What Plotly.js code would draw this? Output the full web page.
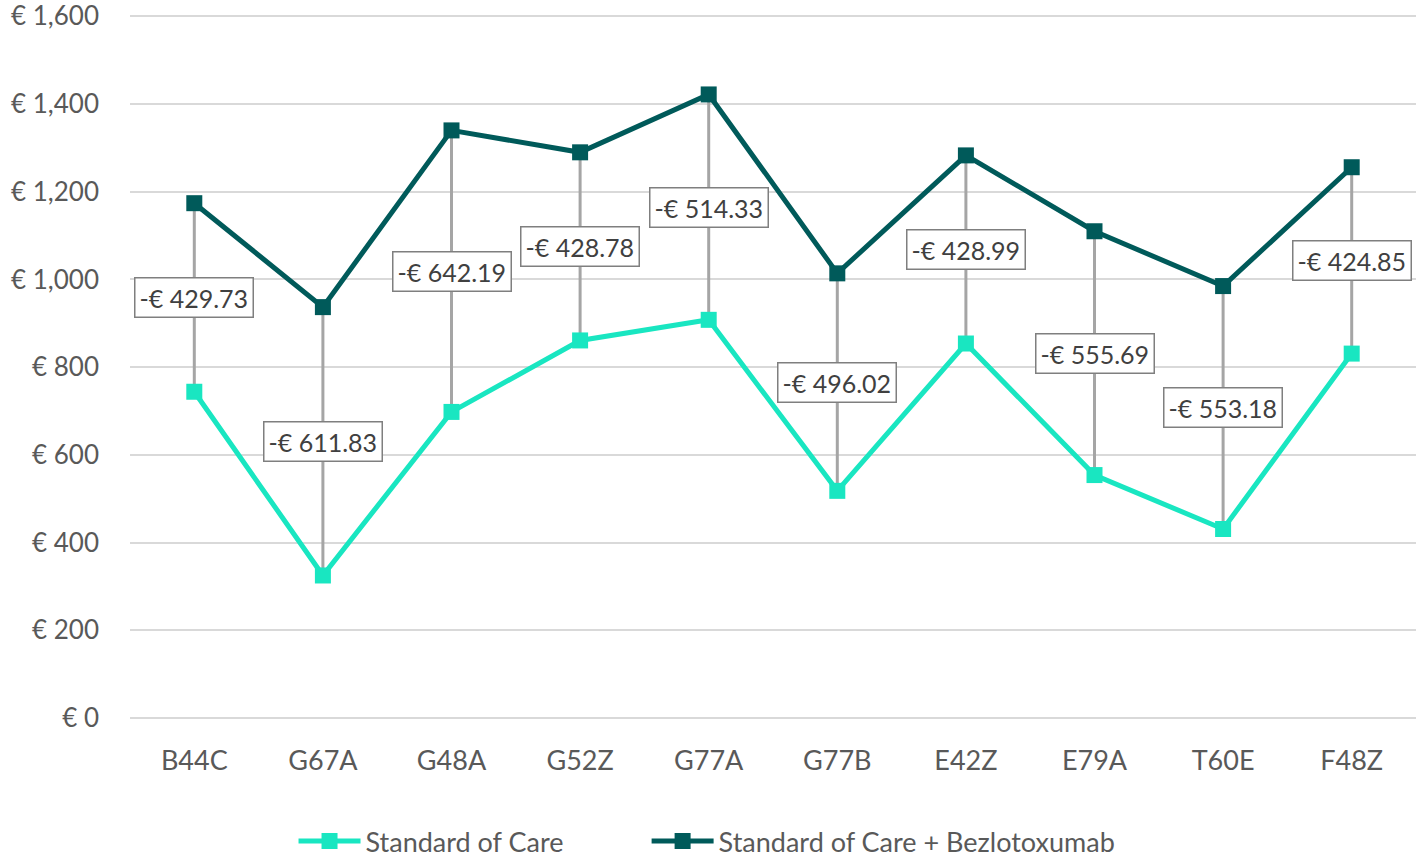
<!DOCTYPE html>
<html>
<head>
<meta charset="utf-8">
<script src="https://cdn.plot.ly/plotly-3.0.1.min.js"></script>
<style>html,body{margin:0;padding:0;background:#fff;}#chart{width:1418px;height:857px;}</style>
</head>
<body>
<div id="chart"></div>
<script>
var categories = ["B44C","G67A","G48A","G52Z","G77A","G77B","E42Z","E79A","T60E","F48Z"];
var standardOfCare = [744, 325, 698, 861, 908, 518, 854, 554, 431, 831];
var withBezlotoxumab = [1174, 937, 1340, 1290, 1422, 1014, 1283, 1110, 985, 1256];
var differenceLabels = ["-€ 429.73","-€ 611.83","-€ 642.19","-€ 428.78","-€ 514.33","-€ 496.02","-€ 428.99","-€ 555.69","-€ 553.18","-€ 424.85"];
var yTicks = [0, 200, 400, 600, 800, 1000, 1200, 1400, 1600];
var yTickLabels = ["€ 0","€ 200","€ 400","€ 600","€ 800","€ 1,000","€ 1,200","€ 1,400","€ 1,600"];

var font = "Lato, 'Open Sans', sans-serif";
var lightColor = "#19e6c1";
var darkColor = "#005a5a";

// high-low drop lines built from the two series
var dropX = [], dropY = [];
categories.forEach(function (c, i) {
  dropX.push(c, c, null);
  dropY.push(standardOfCare[i], withBezlotoxumab[i], null);
});

var traces = [
  {x: dropX, y: dropY, mode: "lines", line: {color: "#a5a5a5", width: 3},
   showlegend: false, hoverinfo: "skip"},
  {x: categories, y: standardOfCare, name: "Standard of Care", mode: "lines+markers", legend: "legend",
   line: {color: lightColor, width: 5}, marker: {symbol: "square", size: 16, color: lightColor}},
  {x: categories, y: withBezlotoxumab, name: "Standard of Care + Bezlotoxumab", mode: "lines+markers", legend: "legend2",
   line: {color: darkColor, width: 5}, marker: {symbol: "square", size: 16, color: darkColor}}
];

var annotations = categories.map(function (c, i) {
  return {
    x: c, y: (standardOfCare[i] + withBezlotoxumab[i]) / 2,
    xref: "x", yref: "y", text: differenceLabels[i], showarrow: false,
    font: {family: font, size: 25, color: "#404040"},
    bgcolor: "#ffffff", bordercolor: "#7f7f7f", borderwidth: 1.5, borderpad: 4
  };
});

var legendFont = {family: font, size: 27, color: "#595959"};

var layout = {
  width: 1418, height: 857,
  margin: {l: 130, r: 2, t: 11.6, b: 139, autoexpand: false},
  paper_bgcolor: "#ffffff", plot_bgcolor: "#ffffff",
  font: {family: font, color: "#595959", size: 27},
  xaxis: {type: "category", range: [-0.5, 9.5], showgrid: false, zeroline: false,
          showline: false, ticks: "", ticklabelstandoff: 24,
          tickfont: {family: font, size: 27, color: "#595959"}},
  yaxis: {range: [0, 1610], tickvals: yTicks, ticktext: yTickLabels,
          showgrid: true, gridcolor: "#d9d9d9", gridwidth: 2, zeroline: true,
          zerolinecolor: "#d9d9d9", zerolinewidth: 2, showline: false, ticks: "",
          ticklabeloverflow: "allow",
          ticklabelstandoff: 30, tickfont: {family: font, size: 26, color: "#595959"}},
  legend: {orientation: "h", xref: "container", x: 0.207, xanchor: "left",
           yref: "container", y: 0.018, yanchor: "middle",
           font: legendFont, itemwidth: 62, bgcolor: "rgba(0,0,0,0)"},
  legend2: {orientation: "h", xref: "container", x: 0.456, xanchor: "left",
           yref: "container", y: 0.018, yanchor: "middle",
           font: legendFont, itemwidth: 62, bgcolor: "rgba(0,0,0,0)"},
  annotations: annotations,
  showlegend: true
};

Plotly.newPlot("chart", traces, layout, {displayModeBar: false, staticPlot: true});
</script>
</body>
</html>
